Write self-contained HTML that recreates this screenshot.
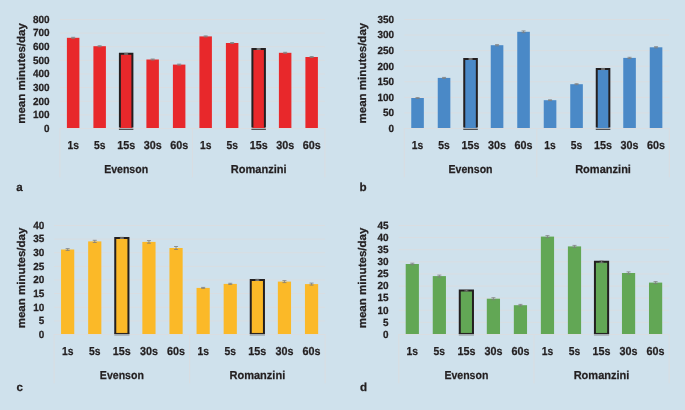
<!DOCTYPE html>
<html lang="en"><head><meta charset="utf-8"><title>Figure</title>
<style>html,body{margin:0;padding:0;background:#cfe1ec;}svg{display:block;will-change:transform;}text{text-rendering:geometricPrecision;font-family:"Liberation Sans",sans-serif;font-weight:bold;fill:#231f20;stroke:#231f20;stroke-width:0.25px;}</style></head><body>
<svg width="685" height="410" viewBox="0 0 685 410">
<rect width="685" height="410" fill="#cfe1ec"/>
<g id="chart-a">
<line x1="59.90" y1="128.50" x2="324.90" y2="128.50" stroke="#d9dde1" stroke-width="1"/>
<line x1="59.90" y1="114.88" x2="324.90" y2="114.88" stroke="#d9dde1" stroke-width="1"/>
<line x1="59.90" y1="101.25" x2="324.90" y2="101.25" stroke="#d9dde1" stroke-width="1"/>
<line x1="59.90" y1="87.62" x2="324.90" y2="87.62" stroke="#d9dde1" stroke-width="1"/>
<line x1="59.90" y1="74.00" x2="324.90" y2="74.00" stroke="#d9dde1" stroke-width="1"/>
<line x1="59.90" y1="60.38" x2="324.90" y2="60.38" stroke="#d9dde1" stroke-width="1"/>
<line x1="59.90" y1="46.75" x2="324.90" y2="46.75" stroke="#d9dde1" stroke-width="1"/>
<line x1="59.90" y1="33.12" x2="324.90" y2="33.12" stroke="#d9dde1" stroke-width="1"/>
<line x1="59.90" y1="19.50" x2="324.90" y2="19.50" stroke="#d9dde1" stroke-width="1"/>
<line x1="59.90" y1="128.00" x2="59.90" y2="177.30" stroke="#d9dde1" stroke-width="1"/>
<line x1="192.40" y1="128.00" x2="192.40" y2="177.30" stroke="#d9dde1" stroke-width="1"/>
<line x1="324.90" y1="128.00" x2="324.90" y2="177.30" stroke="#d9dde1" stroke-width="1"/>
<rect x="66.90" y="37.80" width="12.50" height="90.20" fill="#e8282b"/>
<path d="M71.15 37.30h4M71.15 38.30h4M73.15 37.30v1.00" fill="none" stroke="#7f7f7f" stroke-width="0.8"/>
<rect x="93.40" y="46.20" width="12.50" height="81.80" fill="#e8282b"/>
<path d="M97.65 45.70h4M97.65 46.70h4M99.65 45.70v1.00" fill="none" stroke="#7f7f7f" stroke-width="0.8"/>
<rect x="119.90" y="53.80" width="12.50" height="74.20" fill="#e8282b"/>
<path d="M119.90 127.60V53.80H132.40V127.60" fill="none" stroke="#231f20" stroke-width="2"/>
<rect x="118.90" y="128.70" width="14.50" height="1.25" fill="#4a4a4c"/>
<path d="M124.15 53.30h4M124.15 54.30h4M126.15 53.30v1.00" fill="none" stroke="#7f7f7f" stroke-width="0.8"/>
<rect x="146.40" y="59.50" width="12.50" height="68.50" fill="#e8282b"/>
<path d="M150.65 59.00h4M150.65 60.00h4M152.65 59.00v1.00" fill="none" stroke="#7f7f7f" stroke-width="0.8"/>
<rect x="172.90" y="64.60" width="12.50" height="63.40" fill="#e8282b"/>
<path d="M177.15 64.10h4M177.15 65.10h4M179.15 64.10v1.00" fill="none" stroke="#7f7f7f" stroke-width="0.8"/>
<rect x="199.40" y="36.40" width="12.50" height="91.60" fill="#e8282b"/>
<path d="M203.65 35.90h4M203.65 36.90h4M205.65 35.90v1.00" fill="none" stroke="#7f7f7f" stroke-width="0.8"/>
<rect x="225.90" y="43.00" width="12.50" height="85.00" fill="#e8282b"/>
<path d="M230.15 42.50h4M230.15 43.50h4M232.15 42.50v1.00" fill="none" stroke="#7f7f7f" stroke-width="0.8"/>
<rect x="252.40" y="49.00" width="12.50" height="79.00" fill="#e8282b"/>
<path d="M252.40 127.60V49.00H264.90V127.60" fill="none" stroke="#231f20" stroke-width="2"/>
<rect x="251.40" y="128.70" width="14.50" height="1.25" fill="#4a4a4c"/>
<path d="M256.65 48.50h4M256.65 49.50h4M258.65 48.50v1.00" fill="none" stroke="#7f7f7f" stroke-width="0.8"/>
<rect x="278.90" y="52.80" width="12.50" height="75.20" fill="#e8282b"/>
<path d="M283.15 52.30h4M283.15 53.30h4M285.15 52.30v1.00" fill="none" stroke="#7f7f7f" stroke-width="0.8"/>
<rect x="305.40" y="57.00" width="12.50" height="71.00" fill="#e8282b"/>
<path d="M309.65 56.50h4M309.65 57.50h4M311.65 56.50v1.00" fill="none" stroke="#7f7f7f" stroke-width="0.8"/>
<text x="49.60" y="131.80" font-size="10.4" text-anchor="end" textLength="5.5" lengthAdjust="spacingAndGlyphs">0</text>
<text x="49.60" y="118.17" font-size="10.4" text-anchor="end" textLength="16.6" lengthAdjust="spacingAndGlyphs">100</text>
<text x="49.60" y="104.55" font-size="10.4" text-anchor="end" textLength="16.6" lengthAdjust="spacingAndGlyphs">200</text>
<text x="49.60" y="90.92" font-size="10.4" text-anchor="end" textLength="16.6" lengthAdjust="spacingAndGlyphs">300</text>
<text x="49.60" y="77.30" font-size="10.4" text-anchor="end" textLength="16.6" lengthAdjust="spacingAndGlyphs">400</text>
<text x="49.60" y="63.67" font-size="10.4" text-anchor="end" textLength="16.6" lengthAdjust="spacingAndGlyphs">500</text>
<text x="49.60" y="50.05" font-size="10.4" text-anchor="end" textLength="16.6" lengthAdjust="spacingAndGlyphs">600</text>
<text x="49.60" y="36.42" font-size="10.4" text-anchor="end" textLength="16.6" lengthAdjust="spacingAndGlyphs">700</text>
<text x="49.60" y="22.80" font-size="10.4" text-anchor="end" textLength="16.6" lengthAdjust="spacingAndGlyphs">800</text>
<text transform="translate(24.80 73.45) rotate(-90)" font-size="11.2" text-anchor="middle" textLength="100.8" lengthAdjust="spacingAndGlyphs">mean minutes/day</text>
<text x="73.15" y="148.80" font-size="11.5" text-anchor="middle" textLength="11.5" lengthAdjust="spacingAndGlyphs">1s</text>
<text x="99.65" y="148.80" font-size="11.5" text-anchor="middle" textLength="11.5" lengthAdjust="spacingAndGlyphs">5s</text>
<text x="126.15" y="148.80" font-size="11.5" text-anchor="middle" textLength="18.0" lengthAdjust="spacingAndGlyphs">15s</text>
<text x="152.65" y="148.80" font-size="11.5" text-anchor="middle" textLength="18.0" lengthAdjust="spacingAndGlyphs">30s</text>
<text x="179.15" y="148.80" font-size="11.5" text-anchor="middle" textLength="18.0" lengthAdjust="spacingAndGlyphs">60s</text>
<text x="205.65" y="148.80" font-size="11.5" text-anchor="middle" textLength="11.5" lengthAdjust="spacingAndGlyphs">1s</text>
<text x="232.15" y="148.80" font-size="11.5" text-anchor="middle" textLength="11.5" lengthAdjust="spacingAndGlyphs">5s</text>
<text x="258.65" y="148.80" font-size="11.5" text-anchor="middle" textLength="18.0" lengthAdjust="spacingAndGlyphs">15s</text>
<text x="285.15" y="148.80" font-size="11.5" text-anchor="middle" textLength="18.0" lengthAdjust="spacingAndGlyphs">30s</text>
<text x="311.65" y="148.80" font-size="11.5" text-anchor="middle" textLength="18.0" lengthAdjust="spacingAndGlyphs">60s</text>
<text x="126.15" y="173.00" font-size="11.5" text-anchor="middle" textLength="44" lengthAdjust="spacingAndGlyphs">Evenson</text>
<text x="258.65" y="173.00" font-size="11.5" text-anchor="middle" textLength="55.8" lengthAdjust="spacingAndGlyphs">Romanzini</text>
<text x="16.20" y="191.00" font-size="11.6" fill="#000" stroke="#000" stroke-width="0.5">a</text>
</g>
<g id="chart-b">
<line x1="404.30" y1="128.50" x2="669.30" y2="128.50" stroke="#d9dde1" stroke-width="1"/>
<line x1="404.30" y1="112.93" x2="669.30" y2="112.93" stroke="#d9dde1" stroke-width="1"/>
<line x1="404.30" y1="97.36" x2="669.30" y2="97.36" stroke="#d9dde1" stroke-width="1"/>
<line x1="404.30" y1="81.79" x2="669.30" y2="81.79" stroke="#d9dde1" stroke-width="1"/>
<line x1="404.30" y1="66.21" x2="669.30" y2="66.21" stroke="#d9dde1" stroke-width="1"/>
<line x1="404.30" y1="50.64" x2="669.30" y2="50.64" stroke="#d9dde1" stroke-width="1"/>
<line x1="404.30" y1="35.07" x2="669.30" y2="35.07" stroke="#d9dde1" stroke-width="1"/>
<line x1="404.30" y1="19.50" x2="669.30" y2="19.50" stroke="#d9dde1" stroke-width="1"/>
<line x1="404.30" y1="128.00" x2="404.30" y2="177.30" stroke="#d9dde1" stroke-width="1"/>
<line x1="536.80" y1="128.00" x2="536.80" y2="177.30" stroke="#d9dde1" stroke-width="1"/>
<line x1="669.30" y1="128.00" x2="669.30" y2="177.30" stroke="#d9dde1" stroke-width="1"/>
<rect x="411.25" y="98.00" width="12.60" height="30.00" fill="#4a89c7"/>
<path d="M415.55 97.60h4M415.55 98.40h4M417.55 97.60v0.80" fill="none" stroke="#7f7f7f" stroke-width="0.8"/>
<rect x="437.75" y="77.90" width="12.60" height="50.10" fill="#4a89c7"/>
<path d="M442.05 77.40h4M442.05 78.40h4M444.05 77.40v1.00" fill="none" stroke="#7f7f7f" stroke-width="0.8"/>
<rect x="464.25" y="59.00" width="12.60" height="69.00" fill="#4a89c7"/>
<path d="M464.25 127.60V59.00H476.85V127.60" fill="none" stroke="#231f20" stroke-width="2"/>
<rect x="463.25" y="128.70" width="14.60" height="1.25" fill="#4a4a4c"/>
<path d="M468.55 58.50h4M468.55 59.50h4M470.55 58.50v1.00" fill="none" stroke="#7f7f7f" stroke-width="0.8"/>
<rect x="490.75" y="45.20" width="12.60" height="82.80" fill="#4a89c7"/>
<path d="M495.05 44.60h4M495.05 45.80h4M497.05 44.60v1.20" fill="none" stroke="#7f7f7f" stroke-width="0.8"/>
<rect x="517.25" y="31.80" width="12.60" height="96.20" fill="#4a89c7"/>
<path d="M521.55 30.90h4M521.55 32.70h4M523.55 30.90v1.80" fill="none" stroke="#7f7f7f" stroke-width="0.8"/>
<rect x="543.75" y="100.20" width="12.60" height="27.80" fill="#4a89c7"/>
<path d="M548.05 99.80h4M548.05 100.60h4M550.05 99.80v0.80" fill="none" stroke="#7f7f7f" stroke-width="0.8"/>
<rect x="570.25" y="84.20" width="12.60" height="43.80" fill="#4a89c7"/>
<path d="M574.55 83.70h4M574.55 84.70h4M576.55 83.70v1.00" fill="none" stroke="#7f7f7f" stroke-width="0.8"/>
<rect x="596.75" y="69.00" width="12.60" height="59.00" fill="#4a89c7"/>
<path d="M596.75 127.60V69.00H609.35V127.60" fill="none" stroke="#231f20" stroke-width="2"/>
<rect x="595.75" y="128.70" width="14.60" height="1.25" fill="#4a4a4c"/>
<path d="M601.05 68.40h4M601.05 69.60h4M603.05 68.40v1.20" fill="none" stroke="#7f7f7f" stroke-width="0.8"/>
<rect x="623.25" y="57.90" width="12.60" height="70.10" fill="#4a89c7"/>
<path d="M627.55 57.30h4M627.55 58.50h4M629.55 57.30v1.20" fill="none" stroke="#7f7f7f" stroke-width="0.8"/>
<rect x="649.75" y="47.30" width="12.60" height="80.70" fill="#4a89c7"/>
<path d="M654.05 46.70h4M654.05 47.90h4M656.05 46.70v1.20" fill="none" stroke="#7f7f7f" stroke-width="0.8"/>
<text x="394.00" y="131.80" font-size="10.4" text-anchor="end" textLength="5.5" lengthAdjust="spacingAndGlyphs">0</text>
<text x="394.00" y="116.23" font-size="10.4" text-anchor="end" textLength="11.1" lengthAdjust="spacingAndGlyphs">50</text>
<text x="394.00" y="100.66" font-size="10.4" text-anchor="end" textLength="16.6" lengthAdjust="spacingAndGlyphs">100</text>
<text x="394.00" y="85.09" font-size="10.4" text-anchor="end" textLength="16.6" lengthAdjust="spacingAndGlyphs">150</text>
<text x="394.00" y="69.51" font-size="10.4" text-anchor="end" textLength="16.6" lengthAdjust="spacingAndGlyphs">200</text>
<text x="394.00" y="53.94" font-size="10.4" text-anchor="end" textLength="16.6" lengthAdjust="spacingAndGlyphs">250</text>
<text x="394.00" y="38.37" font-size="10.4" text-anchor="end" textLength="16.6" lengthAdjust="spacingAndGlyphs">300</text>
<text x="394.00" y="22.80" font-size="10.4" text-anchor="end" textLength="16.6" lengthAdjust="spacingAndGlyphs">350</text>
<text transform="translate(366.00 73.15) rotate(-90)" font-size="11.2" text-anchor="middle" textLength="100.8" lengthAdjust="spacingAndGlyphs">mean minutes/day</text>
<text x="417.55" y="148.80" font-size="11.5" text-anchor="middle" textLength="11.5" lengthAdjust="spacingAndGlyphs">1s</text>
<text x="444.05" y="148.80" font-size="11.5" text-anchor="middle" textLength="11.5" lengthAdjust="spacingAndGlyphs">5s</text>
<text x="470.55" y="148.80" font-size="11.5" text-anchor="middle" textLength="18.0" lengthAdjust="spacingAndGlyphs">15s</text>
<text x="497.05" y="148.80" font-size="11.5" text-anchor="middle" textLength="18.0" lengthAdjust="spacingAndGlyphs">30s</text>
<text x="523.55" y="148.80" font-size="11.5" text-anchor="middle" textLength="18.0" lengthAdjust="spacingAndGlyphs">60s</text>
<text x="550.05" y="148.80" font-size="11.5" text-anchor="middle" textLength="11.5" lengthAdjust="spacingAndGlyphs">1s</text>
<text x="576.55" y="148.80" font-size="11.5" text-anchor="middle" textLength="11.5" lengthAdjust="spacingAndGlyphs">5s</text>
<text x="603.05" y="148.80" font-size="11.5" text-anchor="middle" textLength="18.0" lengthAdjust="spacingAndGlyphs">15s</text>
<text x="629.55" y="148.80" font-size="11.5" text-anchor="middle" textLength="18.0" lengthAdjust="spacingAndGlyphs">30s</text>
<text x="656.05" y="148.80" font-size="11.5" text-anchor="middle" textLength="18.0" lengthAdjust="spacingAndGlyphs">60s</text>
<text x="470.55" y="173.00" font-size="11.5" text-anchor="middle" textLength="44" lengthAdjust="spacingAndGlyphs">Evenson</text>
<text x="603.05" y="173.00" font-size="11.5" text-anchor="middle" textLength="55.8" lengthAdjust="spacingAndGlyphs">Romanzini</text>
<text x="359.40" y="191.00" font-size="11.6" fill="#000" stroke="#000" stroke-width="0.5">b</text>
</g>
<g id="chart-c">
<line x1="54.10" y1="334.50" x2="325.10" y2="334.50" stroke="#d9dde1" stroke-width="1"/>
<line x1="54.10" y1="320.88" x2="325.10" y2="320.88" stroke="#d9dde1" stroke-width="1"/>
<line x1="54.10" y1="307.25" x2="325.10" y2="307.25" stroke="#d9dde1" stroke-width="1"/>
<line x1="54.10" y1="293.62" x2="325.10" y2="293.62" stroke="#d9dde1" stroke-width="1"/>
<line x1="54.10" y1="280.00" x2="325.10" y2="280.00" stroke="#d9dde1" stroke-width="1"/>
<line x1="54.10" y1="266.38" x2="325.10" y2="266.38" stroke="#d9dde1" stroke-width="1"/>
<line x1="54.10" y1="252.75" x2="325.10" y2="252.75" stroke="#d9dde1" stroke-width="1"/>
<line x1="54.10" y1="239.12" x2="325.10" y2="239.12" stroke="#d9dde1" stroke-width="1"/>
<line x1="54.10" y1="225.50" x2="325.10" y2="225.50" stroke="#d9dde1" stroke-width="1"/>
<line x1="54.10" y1="334.00" x2="54.10" y2="383.30" stroke="#d9dde1" stroke-width="1"/>
<line x1="189.60" y1="334.00" x2="189.60" y2="383.30" stroke="#d9dde1" stroke-width="1"/>
<line x1="325.10" y1="334.00" x2="325.10" y2="383.30" stroke="#d9dde1" stroke-width="1"/>
<rect x="61.05" y="249.50" width="13.20" height="84.50" fill="#fbb928"/>
<path d="M65.65 248.60h4M65.65 250.40h4M67.65 248.60v1.80" fill="none" stroke="#7f7f7f" stroke-width="0.8"/>
<rect x="88.15" y="241.40" width="13.20" height="92.60" fill="#fbb928"/>
<path d="M92.75 240.30h4M92.75 242.50h4M94.75 240.30v2.20" fill="none" stroke="#7f7f7f" stroke-width="0.8"/>
<rect x="115.25" y="237.90" width="13.20" height="96.10" fill="#fbb928"/>
<path d="M115.25 333.60V237.90H128.45V333.60" fill="none" stroke="#231f20" stroke-width="2"/>
<rect x="114.25" y="332.95" width="15.20" height="1.0" fill="#231f20"/>
<rect x="114.25" y="334.15" width="15.20" height="1.5" fill="#9aa2a8"/>
<path d="M119.85 237.30h4M119.85 238.50h4M121.85 237.30v1.20" fill="none" stroke="#7f7f7f" stroke-width="0.8"/>
<rect x="142.35" y="241.90" width="13.20" height="92.10" fill="#fbb928"/>
<path d="M146.95 240.60h4M146.95 243.20h4M148.95 240.60v2.60" fill="none" stroke="#7f7f7f" stroke-width="0.8"/>
<rect x="169.45" y="248.00" width="13.20" height="86.00" fill="#fbb928"/>
<path d="M174.05 246.50h4M174.05 249.50h4M176.05 246.50v3.00" fill="none" stroke="#7f7f7f" stroke-width="0.8"/>
<rect x="196.55" y="287.90" width="13.20" height="46.10" fill="#fbb928"/>
<path d="M201.15 287.40h4M201.15 288.40h4M203.15 287.40v1.00" fill="none" stroke="#7f7f7f" stroke-width="0.8"/>
<rect x="223.65" y="283.90" width="13.20" height="50.10" fill="#fbb928"/>
<path d="M228.25 283.30h4M228.25 284.50h4M230.25 283.30v1.20" fill="none" stroke="#7f7f7f" stroke-width="0.8"/>
<rect x="250.75" y="279.90" width="13.20" height="54.10" fill="#fbb928"/>
<path d="M250.75 333.60V279.90H263.95V333.60" fill="none" stroke="#231f20" stroke-width="2"/>
<rect x="249.75" y="332.95" width="15.20" height="1.0" fill="#231f20"/>
<rect x="249.75" y="334.15" width="15.20" height="1.5" fill="#9aa2a8"/>
<path d="M255.35 279.30h4M255.35 280.50h4M257.35 279.30v1.20" fill="none" stroke="#7f7f7f" stroke-width="0.8"/>
<rect x="277.85" y="281.60" width="13.20" height="52.40" fill="#fbb928"/>
<path d="M282.45 280.60h4M282.45 282.60h4M284.45 280.60v2.00" fill="none" stroke="#7f7f7f" stroke-width="0.8"/>
<rect x="304.95" y="284.10" width="13.20" height="49.90" fill="#fbb928"/>
<path d="M309.55 283.10h4M309.55 285.10h4M311.55 283.10v2.00" fill="none" stroke="#7f7f7f" stroke-width="0.8"/>
<text x="44.30" y="337.80" font-size="10.4" text-anchor="end" textLength="5.5" lengthAdjust="spacingAndGlyphs">0</text>
<text x="44.30" y="324.18" font-size="10.4" text-anchor="end" textLength="5.5" lengthAdjust="spacingAndGlyphs">5</text>
<text x="44.30" y="310.55" font-size="10.4" text-anchor="end" textLength="11.1" lengthAdjust="spacingAndGlyphs">10</text>
<text x="44.30" y="296.93" font-size="10.4" text-anchor="end" textLength="11.1" lengthAdjust="spacingAndGlyphs">15</text>
<text x="44.30" y="283.30" font-size="10.4" text-anchor="end" textLength="11.1" lengthAdjust="spacingAndGlyphs">20</text>
<text x="44.30" y="269.68" font-size="10.4" text-anchor="end" textLength="11.1" lengthAdjust="spacingAndGlyphs">25</text>
<text x="44.30" y="256.05" font-size="10.4" text-anchor="end" textLength="11.1" lengthAdjust="spacingAndGlyphs">30</text>
<text x="44.30" y="242.43" font-size="10.4" text-anchor="end" textLength="11.1" lengthAdjust="spacingAndGlyphs">35</text>
<text x="44.30" y="228.80" font-size="10.4" text-anchor="end" textLength="11.1" lengthAdjust="spacingAndGlyphs">40</text>
<text transform="translate(24.80 277.95) rotate(-90)" font-size="11.2" text-anchor="middle" textLength="100.8" lengthAdjust="spacingAndGlyphs">mean minutes/day</text>
<text x="67.65" y="354.80" font-size="11.5" text-anchor="middle" textLength="11.5" lengthAdjust="spacingAndGlyphs">1s</text>
<text x="94.75" y="354.80" font-size="11.5" text-anchor="middle" textLength="11.5" lengthAdjust="spacingAndGlyphs">5s</text>
<text x="121.85" y="354.80" font-size="11.5" text-anchor="middle" textLength="18.0" lengthAdjust="spacingAndGlyphs">15s</text>
<text x="148.95" y="354.80" font-size="11.5" text-anchor="middle" textLength="18.0" lengthAdjust="spacingAndGlyphs">30s</text>
<text x="176.05" y="354.80" font-size="11.5" text-anchor="middle" textLength="18.0" lengthAdjust="spacingAndGlyphs">60s</text>
<text x="203.15" y="354.80" font-size="11.5" text-anchor="middle" textLength="11.5" lengthAdjust="spacingAndGlyphs">1s</text>
<text x="230.25" y="354.80" font-size="11.5" text-anchor="middle" textLength="11.5" lengthAdjust="spacingAndGlyphs">5s</text>
<text x="257.35" y="354.80" font-size="11.5" text-anchor="middle" textLength="18.0" lengthAdjust="spacingAndGlyphs">15s</text>
<text x="284.45" y="354.80" font-size="11.5" text-anchor="middle" textLength="18.0" lengthAdjust="spacingAndGlyphs">30s</text>
<text x="311.55" y="354.80" font-size="11.5" text-anchor="middle" textLength="18.0" lengthAdjust="spacingAndGlyphs">60s</text>
<text x="121.85" y="379.00" font-size="11.5" text-anchor="middle" textLength="44" lengthAdjust="spacingAndGlyphs">Evenson</text>
<text x="257.35" y="379.00" font-size="11.5" text-anchor="middle" textLength="55.8" lengthAdjust="spacingAndGlyphs">Romanzini</text>
<text x="16.50" y="391.00" font-size="11.6" fill="#000" stroke="#000" stroke-width="0.5">c</text>
</g>
<g id="chart-d">
<line x1="398.80" y1="334.50" x2="669.10" y2="334.50" stroke="#d9dde1" stroke-width="1"/>
<line x1="398.80" y1="322.39" x2="669.10" y2="322.39" stroke="#d9dde1" stroke-width="1"/>
<line x1="398.80" y1="310.28" x2="669.10" y2="310.28" stroke="#d9dde1" stroke-width="1"/>
<line x1="398.80" y1="298.17" x2="669.10" y2="298.17" stroke="#d9dde1" stroke-width="1"/>
<line x1="398.80" y1="286.06" x2="669.10" y2="286.06" stroke="#d9dde1" stroke-width="1"/>
<line x1="398.80" y1="273.94" x2="669.10" y2="273.94" stroke="#d9dde1" stroke-width="1"/>
<line x1="398.80" y1="261.83" x2="669.10" y2="261.83" stroke="#d9dde1" stroke-width="1"/>
<line x1="398.80" y1="249.72" x2="669.10" y2="249.72" stroke="#d9dde1" stroke-width="1"/>
<line x1="398.80" y1="237.61" x2="669.10" y2="237.61" stroke="#d9dde1" stroke-width="1"/>
<line x1="398.80" y1="225.50" x2="669.10" y2="225.50" stroke="#d9dde1" stroke-width="1"/>
<line x1="398.80" y1="334.00" x2="398.80" y2="383.30" stroke="#d9dde1" stroke-width="1"/>
<line x1="533.95" y1="334.00" x2="533.95" y2="383.30" stroke="#d9dde1" stroke-width="1"/>
<line x1="669.10" y1="334.00" x2="669.10" y2="383.30" stroke="#d9dde1" stroke-width="1"/>
<rect x="405.71" y="264.00" width="13.20" height="70.00" fill="#62a755"/>
<path d="M410.31 263.20h4M410.31 264.80h4M412.31 263.20v1.60" fill="none" stroke="#7f7f7f" stroke-width="0.8"/>
<rect x="432.75" y="276.10" width="13.20" height="57.90" fill="#62a755"/>
<path d="M437.35 275.10h4M437.35 277.10h4M439.35 275.10v2.00" fill="none" stroke="#7f7f7f" stroke-width="0.8"/>
<rect x="459.77" y="290.40" width="13.20" height="43.60" fill="#62a755"/>
<path d="M459.77 333.60V290.40H472.97V333.60" fill="none" stroke="#231f20" stroke-width="2"/>
<rect x="458.77" y="332.95" width="15.20" height="1.0" fill="#231f20"/>
<rect x="458.77" y="334.15" width="15.20" height="1.5" fill="#9aa2a8"/>
<path d="M464.38 289.80h4M464.38 291.00h4M466.38 289.80v1.20" fill="none" stroke="#7f7f7f" stroke-width="0.8"/>
<rect x="486.81" y="298.70" width="13.20" height="35.30" fill="#62a755"/>
<path d="M491.41 297.70h4M491.41 299.70h4M493.41 297.70v2.00" fill="none" stroke="#7f7f7f" stroke-width="0.8"/>
<rect x="513.84" y="305.20" width="13.20" height="28.80" fill="#62a755"/>
<path d="M518.44 304.40h4M518.44 306.00h4M520.44 304.40v1.60" fill="none" stroke="#7f7f7f" stroke-width="0.8"/>
<rect x="540.87" y="236.60" width="13.20" height="97.40" fill="#62a755"/>
<path d="M545.47 235.60h4M545.47 237.60h4M547.47 235.60v2.00" fill="none" stroke="#7f7f7f" stroke-width="0.8"/>
<rect x="567.89" y="246.40" width="13.20" height="87.60" fill="#62a755"/>
<path d="M572.50 245.40h4M572.50 247.40h4M574.50 245.40v2.00" fill="none" stroke="#7f7f7f" stroke-width="0.8"/>
<rect x="594.93" y="261.80" width="13.20" height="72.20" fill="#62a755"/>
<path d="M594.93 333.60V261.80H608.13V333.60" fill="none" stroke="#231f20" stroke-width="2"/>
<rect x="593.93" y="332.95" width="15.20" height="1.0" fill="#231f20"/>
<rect x="593.93" y="334.15" width="15.20" height="1.5" fill="#9aa2a8"/>
<path d="M599.53 260.80h4M599.53 262.80h4M601.53 260.80v2.00" fill="none" stroke="#7f7f7f" stroke-width="0.8"/>
<rect x="621.96" y="273.00" width="13.20" height="61.00" fill="#62a755"/>
<path d="M626.56 271.90h4M626.56 274.10h4M628.56 271.90v2.20" fill="none" stroke="#7f7f7f" stroke-width="0.8"/>
<rect x="648.99" y="282.60" width="13.20" height="51.40" fill="#62a755"/>
<path d="M653.59 281.60h4M653.59 283.60h4M655.59 281.60v2.00" fill="none" stroke="#7f7f7f" stroke-width="0.8"/>
<text x="388.50" y="337.80" font-size="10.4" text-anchor="end" textLength="5.5" lengthAdjust="spacingAndGlyphs">0</text>
<text x="388.50" y="325.69" font-size="10.4" text-anchor="end" textLength="5.5" lengthAdjust="spacingAndGlyphs">5</text>
<text x="388.50" y="313.58" font-size="10.4" text-anchor="end" textLength="11.1" lengthAdjust="spacingAndGlyphs">10</text>
<text x="388.50" y="301.47" font-size="10.4" text-anchor="end" textLength="11.1" lengthAdjust="spacingAndGlyphs">15</text>
<text x="388.50" y="289.36" font-size="10.4" text-anchor="end" textLength="11.1" lengthAdjust="spacingAndGlyphs">20</text>
<text x="388.50" y="277.24" font-size="10.4" text-anchor="end" textLength="11.1" lengthAdjust="spacingAndGlyphs">25</text>
<text x="388.50" y="265.13" font-size="10.4" text-anchor="end" textLength="11.1" lengthAdjust="spacingAndGlyphs">30</text>
<text x="388.50" y="253.02" font-size="10.4" text-anchor="end" textLength="11.1" lengthAdjust="spacingAndGlyphs">35</text>
<text x="388.50" y="240.91" font-size="10.4" text-anchor="end" textLength="11.1" lengthAdjust="spacingAndGlyphs">40</text>
<text x="388.50" y="228.80" font-size="10.4" text-anchor="end" textLength="11.1" lengthAdjust="spacingAndGlyphs">45</text>
<text transform="translate(366.40 277.95) rotate(-90)" font-size="11.2" text-anchor="middle" textLength="100.8" lengthAdjust="spacingAndGlyphs">mean minutes/day</text>
<text x="412.31" y="354.80" font-size="11.5" text-anchor="middle" textLength="11.5" lengthAdjust="spacingAndGlyphs">1s</text>
<text x="439.35" y="354.80" font-size="11.5" text-anchor="middle" textLength="11.5" lengthAdjust="spacingAndGlyphs">5s</text>
<text x="466.38" y="354.80" font-size="11.5" text-anchor="middle" textLength="18.0" lengthAdjust="spacingAndGlyphs">15s</text>
<text x="493.41" y="354.80" font-size="11.5" text-anchor="middle" textLength="18.0" lengthAdjust="spacingAndGlyphs">30s</text>
<text x="520.44" y="354.80" font-size="11.5" text-anchor="middle" textLength="18.0" lengthAdjust="spacingAndGlyphs">60s</text>
<text x="547.47" y="354.80" font-size="11.5" text-anchor="middle" textLength="11.5" lengthAdjust="spacingAndGlyphs">1s</text>
<text x="574.50" y="354.80" font-size="11.5" text-anchor="middle" textLength="11.5" lengthAdjust="spacingAndGlyphs">5s</text>
<text x="601.53" y="354.80" font-size="11.5" text-anchor="middle" textLength="18.0" lengthAdjust="spacingAndGlyphs">15s</text>
<text x="628.56" y="354.80" font-size="11.5" text-anchor="middle" textLength="18.0" lengthAdjust="spacingAndGlyphs">30s</text>
<text x="655.59" y="354.80" font-size="11.5" text-anchor="middle" textLength="18.0" lengthAdjust="spacingAndGlyphs">60s</text>
<text x="466.38" y="379.00" font-size="11.5" text-anchor="middle" textLength="44" lengthAdjust="spacingAndGlyphs">Evenson</text>
<text x="601.53" y="379.00" font-size="11.5" text-anchor="middle" textLength="55.8" lengthAdjust="spacingAndGlyphs">Romanzini</text>
<text x="359.90" y="391.00" font-size="11.6" fill="#000" stroke="#000" stroke-width="0.5">d</text>
</g>
</svg></body></html>
